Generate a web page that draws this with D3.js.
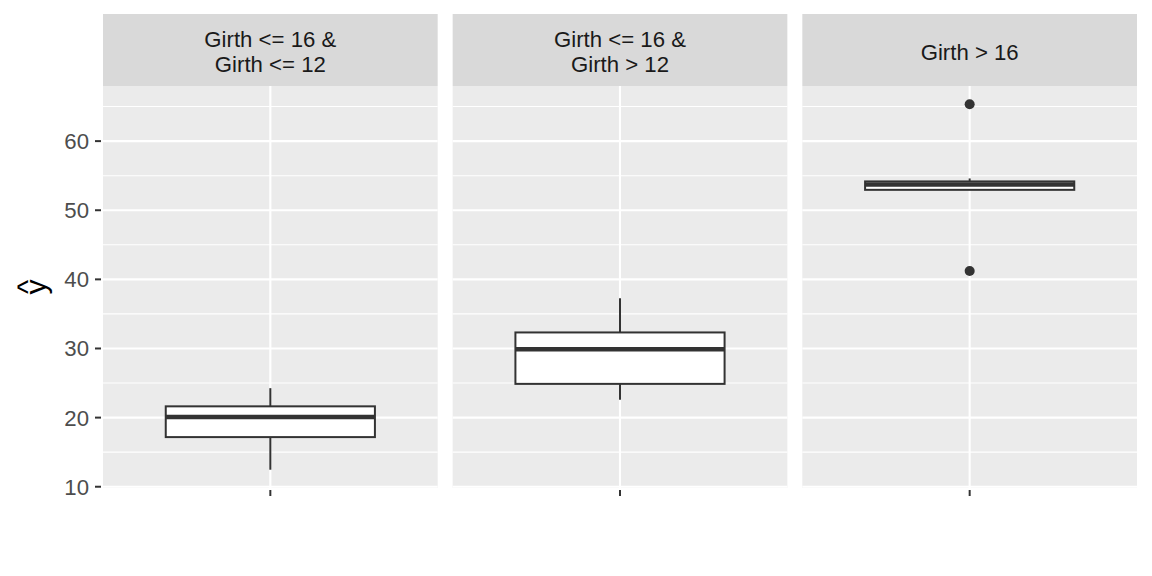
<!DOCTYPE html>
<html><head><meta charset="utf-8">
<script src="https://cdn.jsdelivr.net/npm/d3@7"></script>
<style>body{margin:0;background:#fff;} text{font-family:"Liberation Sans",Arial,sans-serif;}</style>
</head><body>
<svg id="c" width="1152" height="576"></svg>
<script>
const panels = ["Girth <= 16 &\nGirth <= 12", "Girth <= 16 &\nGirth > 12", "Girth > 16"];
const lowerWhisker = [12.46, 22.57, 52.95];
const q1 = [17.18, 24.88, 52.95];
const medians = [20.07, 29.90, 53.74];
const q3 = [21.63, 32.32, 54.17];
const upperWhisker = [24.26, 37.27, 54.6];
const outliers = [[], [], [65.33, 41.21]];
const yTicks = [10, 20, 30, 40, 50, 60];
const yMinor = [15, 25, 35, 45, 55, 65];

(function () {
const svg = d3.select("#c");
const W = 1152, H = 576;
const mLeft = 103, mRight = 1137, gap = 15, mTop = 14, stripH = 72, mBottom = 488;
const pw = (mRight - mLeft - gap * 2) / 3;
const fs = 22.2;

const all = [].concat(lowerWhisker, upperWhisker, ...outliers);
const lo = d3.min(all), hi = d3.max(all), ex = (hi - lo) * 0.05;
const y = d3.scaleLinear().domain([lo - ex, hi + ex]).range([mBottom, mTop + stripH]);

svg.append("rect").attr("width", W).attr("height", H).attr("fill", "#fff");

panels.forEach((p, i) => {
  const x0 = mLeft + i * (pw + gap);
  const xc = d3.scaleLinear().domain([0.4, 1.6]).range([x0, x0 + pw]);
  const g = svg.append("g");
  g.append("rect").attr("x", x0).attr("y", mTop).attr("width", pw).attr("height", stripH).attr("fill", "#d9d9d9");
  const lines = p.split("\n");
  const t = g.append("text").attr("text-anchor", "middle").attr("fill", "#1a1a1a").attr("font-size", fs);
  const cy = mTop + stripH / 2;
  lines.forEach((l, k) => {
    t.append("tspan").attr("x", x0 + pw / 2)
      .attr("y", cy + (k - (lines.length - 1) / 2) * 25.5 + 9.5).text(l);
  });
  g.append("rect").attr("x", x0).attr("y", mTop + stripH).attr("width", pw).attr("height", mBottom - mTop - stripH).attr("fill", "#ebebeb");
  yMinor.forEach(v => {
    if (y(v) < mTop + stripH) return;
    g.append("line").attr("x1", x0).attr("x2", x0 + pw).attr("y1", y(v)).attr("y2", y(v)).attr("stroke", "#fff").attr("stroke-width", 1.1);
  });
  yTicks.forEach(v => {
    g.append("line").attr("x1", x0).attr("x2", x0 + pw).attr("y1", y(v)).attr("y2", y(v)).attr("stroke", "#fff").attr("stroke-width", 2.1);
  });
  const cx = xc(1);
  g.append("line").attr("x1", cx).attr("x2", cx).attr("y1", mTop + stripH).attr("y2", mBottom).attr("stroke", "#fff").attr("stroke-width", 2.1);
  const bw = xc(1.375) - xc(0.625);
  g.append("line").attr("x1", cx).attr("x2", cx).attr("y1", y(upperWhisker[i])).attr("y2", y(q3[i])).attr("stroke", "#333").attr("stroke-width", 2);
  g.append("line").attr("x1", cx).attr("x2", cx).attr("y1", y(q1[i])).attr("y2", y(lowerWhisker[i])).attr("stroke", "#333").attr("stroke-width", 2);
  g.append("rect").attr("x", cx - bw / 2).attr("width", bw).attr("y", y(q3[i])).attr("height", y(q1[i]) - y(q3[i]))
    .attr("fill", "#fff").attr("stroke", "#333").attr("stroke-width", 2);
  g.append("line").attr("x1", cx - bw / 2).attr("x2", cx + bw / 2).attr("y1", y(medians[i])).attr("y2", y(medians[i])).attr("stroke", "#333").attr("stroke-width", 4.5);
  outliers[i].forEach(v => {
    g.append("circle").attr("cx", cx).attr("cy", y(v)).attr("r", 5).attr("fill", "#333");
  });
  g.append("line").attr("x1", cx).attr("x2", cx).attr("y1", mBottom + 2).attr("y2", mBottom + 8).attr("stroke", "#333").attr("stroke-width", 2);
});

const ya = svg.append("g");
yTicks.forEach(v => {
  ya.append("line").attr("x1", mLeft - 8).attr("x2", mLeft - 2).attr("y1", y(v)).attr("y2", y(v)).attr("stroke", "#333").attr("stroke-width", 2);
  ya.append("text").attr("x", mLeft - 14).attr("y", y(v) + 7.9).attr("text-anchor", "end").attr("fill", "#4d4d4d").attr("font-size", fs).text(v);
});
const yt = svg.append("g").attr("transform", `translate(0,${(mTop + stripH + mBottom) / 2}) rotate(-90)`);
yt.append("text").attr("x", 0).attr("y", 45.6).attr("text-anchor", "middle").attr("fill", "#000").attr("font-size", 30).text("y");
yt.append("text").attr("x", 0).attr("y", 37.5).attr("text-anchor", "middle").attr("fill", "#000").attr("font-size", 30).text("^");
})();
</script>
</body></html>
